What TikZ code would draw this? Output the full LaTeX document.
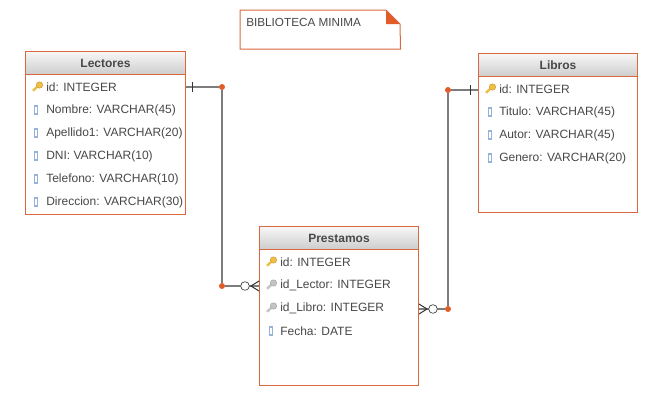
\documentclass[tikz,border=0pt]{standalone}
\usepackage{fontspec}
\setmainfont{Liberation Sans}
\usepackage{xcolor}
\definecolor{tableedge}{RGB}{218,104,62}
\definecolor{dotfill}{RGB}{226,92,42}
\definecolor{linkgray}{RGB}{125,125,125}
\definecolor{labelgray}{RGB}{72,72,72}
\definecolor{keygold}{RGB}{240,190,70}
\definecolor{fkgray}{RGB}{196,196,196}
\definecolor{colblue}{RGB}{150,178,218}

\tikzset{
  tablebox/.style={draw=tableedge,line width=0.75pt,fill=white,anchor=north west,inner sep=0pt,minimum width=#1},
  tablehead/.style={draw=tableedge,line width=0.75pt,top color=black!3,bottom color=black!20,anchor=north west,inner sep=0pt,minimum width=#1,minimum height=17.5pt,font=\fontsize{9}{11}\selectfont\bfseries,text=labelgray},
  rowtext/.style={anchor=west,inner sep=0pt,font=\fontsize{9}{11}\selectfont,text=labelgray},
  notebox/.style={draw=none,anchor=north west,inner sep=0pt,minimum width=120pt,minimum height=29pt},
  junction/.style={circle,fill=dotfill,draw=none,inner sep=0pt,minimum size=4.5pt},
  link/.style={draw=linkgray,line width=1.4pt},
  openend/.style={circle,draw=black!75,fill=white,line width=0.5pt,inner sep=0pt,minimum size=6.5pt},
  endmark/.style={draw=black!80,line width=0.75pt},
}
\newcommand{\pkkey}[3]{% x, y, colour
  \fill[#3] (#1,#2+3) -- (#1+6,#2-2.5) -- (#1+7.5,#2-1) -- (#1+2,#2+4.5) -- cycle;
  \draw[#3!85!black,fill=#3,line width=0.4pt] (#1+7.5,#2-2) circle [radius=3.2];
}
\newcommand{\colmark}[2]{% x, y
  \draw[colblue,line width=0.8pt] (#1-1.8,#2-4) rectangle (#1+1.8,#2+4);
}

\begin{document}
\begin{tikzpicture}[x=0.75pt,y=0.75pt,yscale=-1,xscale=1]
\useasboundingbox (0,0) rectangle (647,415);

% Note
\node (note) [notebox] at (240,10) {};
\draw[draw=tableedge,line width=0.75pt,fill=white] (note.north west) -- (386,10) -- (400,24) -- (note.south east) -- (note.south west) -- cycle;
\fill[dotfill] (386,10) -- (400,24) -- (386,24) -- cycle;
\node (notetext) [rowtext,font=\fontsize{8.8}{11}\selectfont] at (246,22) {BIBLIOTECA MINIMA};

% Lectores
\node (lectores) [tablebox=120pt,minimum height=122.25pt] at (25,51) {};
\node (lectoreshead) [tablehead=120pt] at (25,51) {Lectores};
\node (lectoresid) [rowtext] at (46,87) {id: INTEGER};
\node (lectoresnombre) [rowtext] at (46,110) {Nombre: VARCHAR(45)};
\node (lectoresapellido) [rowtext] at (46,133) {Apellido1: VARCHAR(20)};
\node (lectoresdni) [rowtext] at (46,156) {DNI: VARCHAR(10)};
\node (lectorestelefono) [rowtext] at (46,179) {Telefono: VARCHAR(10)};
\node (lectoresdireccion) [rowtext] at (46,202) {Direccion: VARCHAR(30)};
\pkkey{32}{87}{keygold}
\colmark{36}{110}
\colmark{36}{133}
\colmark{36}{156}
\colmark{36}{179}
\colmark{36}{202}

% Libros
\node (libros) [tablebox=119.25pt,minimum height=119.25pt] at (478,53) {};
\node (libroshead) [tablehead=119.25pt] at (478,53) {Libros};
\node (librosid) [rowtext] at (499,89) {id: INTEGER};
\node (librostitulo) [rowtext] at (499,112) {Titulo: VARCHAR(45)};
\node (librosautor) [rowtext] at (499,135) {Autor: VARCHAR(45)};
\node (librosgenero) [rowtext] at (499,158) {Genero: VARCHAR(20)};
\pkkey{485}{89}{keygold}
\colmark{490}{112}
\colmark{490}{135}
\colmark{490}{158}

% Prestamos
\node (prestamos) [tablebox=119.25pt,minimum height=119.25pt] at (259,226) {};
\node (prestamoshead) [tablehead=119.25pt] at (259,226) {Prestamos};
\node (prestamosid) [rowtext] at (280,262) {id: INTEGER};
\node (prestamoslector) [rowtext] at (280,285) {id\_Lector: INTEGER};
\node (prestamoslibro) [rowtext] at (280,308) {id\_Libro: INTEGER};
\node (prestamosfecha) [rowtext] at (280,331) {Fecha: DATE};
\pkkey{266}{262}{keygold}
\pkkey{266}{285}{fkgray}
\pkkey{266}{308}{fkgray}
\colmark{271}{331}

% Lectores to Prestamos
\node (cornera) [junction] at (222,87) {};
\node (cornerb) [junction] at (222,286) {};
\draw[link] (lectores.east |- lectoresid) -- (cornera) -- (cornerb) -- (prestamos.west |- cornerb);
\draw[endmark] (192,82) -- (192,92);
\node (opena) [openend] at (245,286) {};
\draw[endmark] (prestamos.west |- 0,281) -- (251,286) -- (prestamos.west |- 0,291);

% Libros to Prestamos
\node (cornerc) [junction] at (448,90) {};
\node (cornerd) [junction] at (448,309) {};
\draw[link] (libros.west |- cornerc) -- (cornerc) -- (cornerd) -- (prestamos.east |- cornerd);
\draw[endmark] (470,85) -- (470,95);
\node (openb) [openend] at (433,309) {};
\draw[endmark] (prestamos.east |- 0,304) -- (427,309) -- (prestamos.east |- 0,314);

\end{tikzpicture}
\end{document}
